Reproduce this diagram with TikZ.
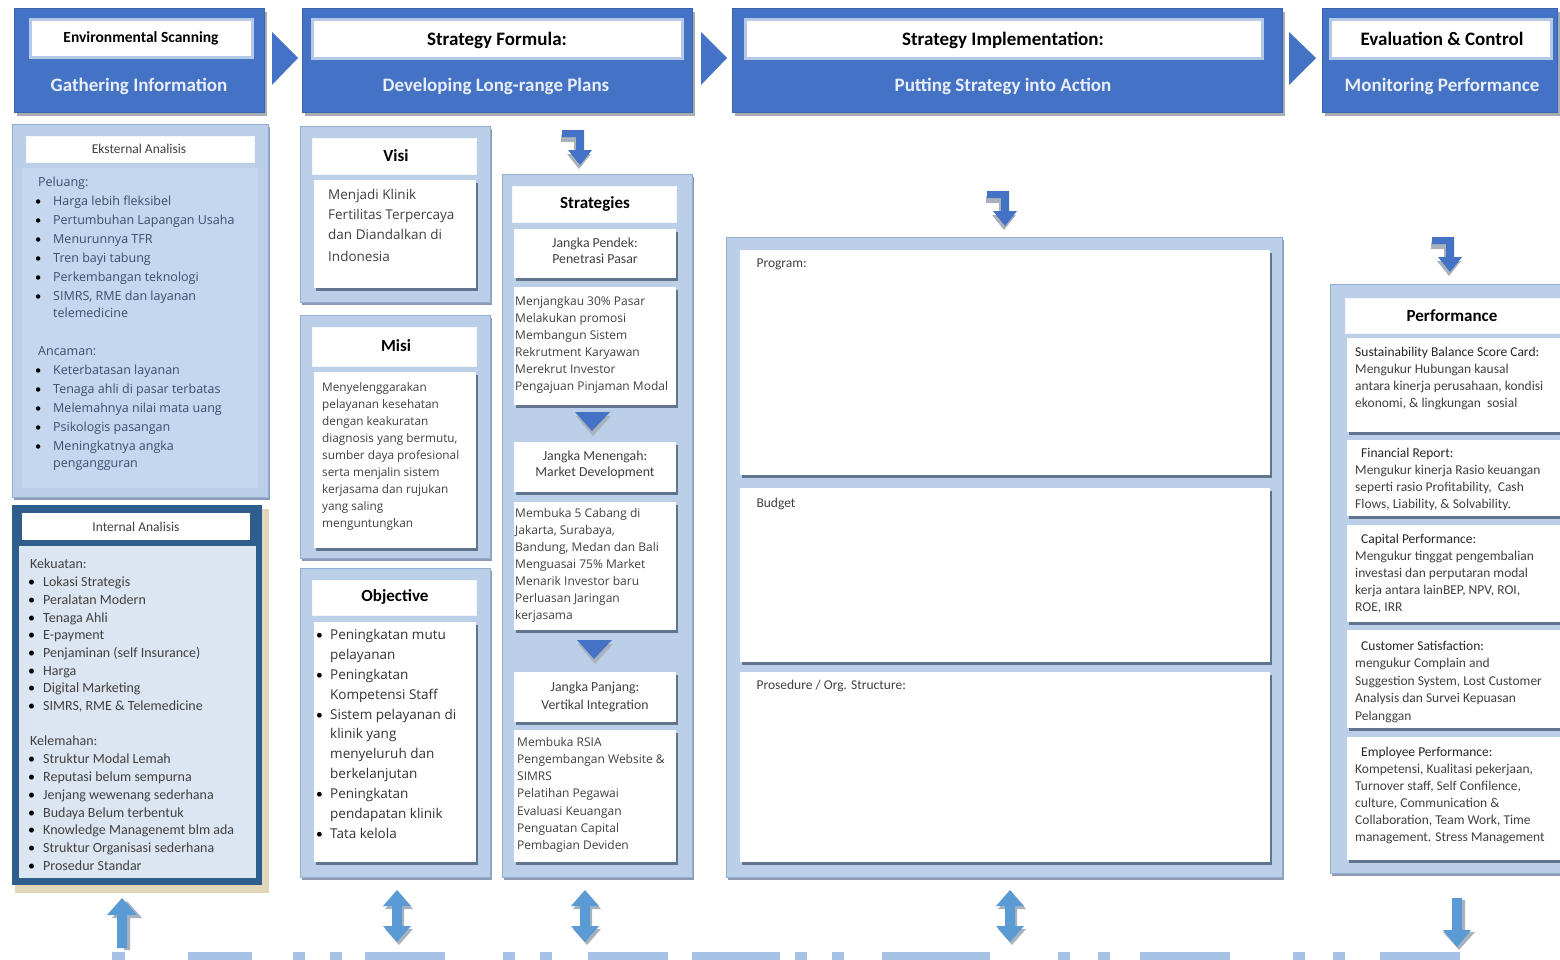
\documentclass[tikz,border=0pt]{standalone}
\usepackage{fontspec}
\setmainfont{Carlito}
\newfontfamily\wide{Open Sans}
\usetikzlibrary{shadows}
\definecolor{hblue}{HTML}{4472C4}
\definecolor{hline}{HTML}{3B64AD}
\definecolor{hgray}{HTML}{A9ADB3}
\definecolor{hrim}{HTML}{B4C9E8}
\definecolor{fblue}{HTML}{BCCFE8}
\definecolor{fedge}{HTML}{93ADD3}
\definecolor{fshade}{HTML}{8C9BB1}
\definecolor{cshade}{HTML}{62758F}
\definecolor{pblue}{HTML}{C4D7EE}
\definecolor{iblue}{HTML}{DCE6F2}
\definecolor{dblue}{HTML}{2E5D8E}
\definecolor{tanish}{HTML}{E2D6B8}
\definecolor{ablue}{HTML}{5B9BD5}
\definecolor{agray}{HTML}{A9B1BD}
\definecolor{sblue}{HTML}{A6C2E4}
\definecolor{txt}{HTML}{404040}
\definecolor{etxt}{HTML}{3E4D6A}
\newcommand\bl[1]{\makebox[#1][l]{\normalfont\textcolor{black}{\textbullet}}}

\begin{document}
\begin{tikzpicture}[x=1pt, y=-1pt,
    head/.style = {fill=hblue, draw=hline, drop shadow={opacity=1, fill=hgray, shadow xshift=3pt, shadow yshift=-4pt}},
    headin/.style = {fill=white, draw=hrim, line width=3pt},
    frm/.style = {fill=fblue, draw=fedge, drop shadow={opacity=1, fill=fshade, shadow xshift=2pt, shadow yshift=-3pt}},
    ttlcard/.style = {fill=white, draw=white!80!fblue},
    card/.style = {fill=white, drop shadow={opacity=1, fill=cshade, shadow xshift=1.5pt, shadow yshift=-3pt}},
    ttl/.style = {font=\bfseries\fontsize{19}{22}\selectfont, text=black},
    sub/.style = {font=\bfseries\fontsize{19}{22}\selectfont, text=white!88!hblue},
    btl/.style = {font=\bfseries\fontsize{17}{20}\selectfont, text=black},
    lbl/.style = {font=\fontsize{13.5}{16}\selectfont, text=txt},
    blk/.style = {anchor=north west, inner sep=0pt, align=left, text=txt},
    ctr/.style = {inner sep=0pt, align=center, text=txt},
    chev/.style = {fill=hblue},
    arr/.style = {fill=ablue},
    ashd/.style = {fill=agray}
    ]
    \useasboundingbox (0,0) rectangle (1560,959);
    \clip (0,0) rectangle (1560,959);

    \path[head] (14,8) rectangle (264,112);
    \path[headin] (30,19) rectangle (252,57);
    \node[ttl, font=\bfseries\fontsize{15.5}{18}\selectfont] (envscan) at (141,38) {Environmental Scanning};
    \node[sub] (gather) at (139,86) {Gathering Information};
    \fill[chev] (272,32) -- (298,58) -- (272,85) -- cycle;

    \path[head] (302,8) rectangle (692,112);
    \path[headin] (312,19) rectangle (682,58);
    \node[ttl] (formula) at (497,40) {Strategy Formula:};
    \node[sub] (develop) at (496,86) {Developing Long-range Plans};
    \fill[chev] (701,32) -- (727,58) -- (701,85) -- cycle;

    \path[head] (732,8) rectangle (1282,112);
    \path[headin] (745,19) rectangle (1262,58);
    \node[ttl] (implement) at (1003,40) {Strategy Implementation:};
    \node[sub] (action) at (1003,86) {Putting Strategy into Action};
    \fill[chev] (1289,32) -- (1316,58) -- (1289,85) -- cycle;

    \path[head] (1322,8) rectangle (1557,112);
    \path[headin] (1330,19) rectangle (1551,58);
    \node[ttl] (evaluate) at (1442,39) {Evaluation \& Control};
    \node[sub] (monitor) at (1442,86) {Monitoring Performance};

    \path[frm] (12,124) rectangle (268,497);
    \path[ttlcard] (26,136) rectangle (254,162);
    \fill[pblue] (22,168) rectangle (258,488);
    \node[lbl] (eksternal) at (139,149) {Eksternal Analisis};
    \node[blk, text=etxt, font=\wide\fontsize{12.5}{19}\selectfont] (peluang) at (35,177) {%
        \hspace*{3pt}Peluang:\\
        \bl{18pt}Harga lebih fleksibel\\
        \bl{18pt}Pertumbuhan Lapangan Usaha\\
        \bl{18pt}Menurunnya TFR\\
        \bl{18pt}Tren bayi tabung\\
        \bl{18pt}Perkembangan teknologi\\
        \bl{18pt}SIMRS, RME dan layanan\\[-2pt]
        \hspace*{18pt}telemedicine};
    \node[blk, text=etxt, font=\wide\fontsize{12.5}{19}\selectfont] (ancaman) at (35,346) {%
        \hspace*{3pt}Ancaman:\\
        \bl{18pt}Keterbatasan layanan\\
        \bl{18pt}Tenaga ahli di pasar terbatas\\
        \bl{18pt}Melemahnya nilai mata uang\\
        \bl{18pt}Psikologis pasangan\\
        \bl{18pt}Meningkatnya angka\\[-2pt]
        \hspace*{18pt}pengangguran};

    \fill[tanish] (15,509) rectangle (269,893);
    \fill[dblue] (12,505) rectangle (262,885);
    \fill[white] (22,513) rectangle (250,540);
    \fill[iblue] (19,546) rectangle (256,878);
    \node[lbl] (internal) at (136,527) {Internal Analisis};
    \node[blk, font=\fontsize{14}{17.7}\selectfont] (kekuatan) at (28,559) {%
        \hspace*{2pt}Kekuatan:\\
        \bl{15pt}Lokasi Strategis\\
        \bl{15pt}Peralatan Modern\\
        \bl{15pt}Tenaga Ahli\\
        \bl{15pt}E-payment\\
        \bl{15pt}Penjaminan (self Insurance)\\
        \bl{15pt}Harga\\
        \bl{15pt}Digital Marketing\\
        \bl{15pt}SIMRS, RME \& Telemedicine};
    \node[blk, font=\fontsize{14}{17.8}\selectfont] (kelemahan) at (28,736) {%
        \hspace*{2pt}Kelemahan:\\
        \bl{15pt}Struktur Modal Lemah\\
        \bl{15pt}Reputasi belum sempurna\\
        \bl{15pt}Jenjang wewenang sederhana\\
        \bl{15pt}Budaya Belum terbentuk\\
        \bl{15pt}Knowledge Managenemt blm ada\\
        \bl{15pt}Struktur Organisasi sederhana\\
        \bl{15pt}Prosedur Standar};

    \path[frm] (300,126) rectangle (490,302);
    \path[ttlcard] (312,138) rectangle (476,174);
    \path[card] (314,180) rectangle (476,288);
    \node[btl] (visi) at (396,156) {Visi};
    \node[blk, font=\wide\fontsize{13.5}{20}\selectfont] (visitext) at (328,189) {%
        Menjadi Klinik\\
        Fertilitas Terpercaya\\
        dan Diandalkan di\\[2pt]
        Indonesia};

    \path[frm] (300,315) rectangle (490,558);
    \path[ttlcard] (312,327) rectangle (476,366);
    \path[card] (314,372) rectangle (476,548);
    \node[btl] (misi) at (396,346) {Misi};
    \node[blk, font=\wide\fontsize{11.8}{17}\selectfont] (misitext) at (322,382) {%
        Menyelenggarakan\\
        pelayanan kesehatan\\
        dengan keakuratan\\
        diagnosis yang bermutu,\\
        sumber daya profesional\\
        serta menjalin sistem\\
        kerjasama dan rujukan\\
        yang saling\\
        menguntungkan};

    \path[frm] (300,568) rectangle (490,877);
    \path[ttlcard] (312,580) rectangle (476,615);
    \path[card] (314,622) rectangle (476,862);
    \node[btl] (objective) at (395,597) {Objective};
    \node[blk, text=black!80, font=\wide\fontsize{13.5}{19.9}\selectfont] (objtext) at (316,629) {%
        \bl{14pt}Peningkatan mutu\\
        \hspace*{14pt}pelayanan\\
        \bl{14pt}Peningkatan\\
        \hspace*{14pt}Kompetensi Staff\\
        \bl{14pt}Sistem pelayanan di\\
        \hspace*{14pt}klinik yang\\
        \hspace*{14pt}menyeluruh dan\\
        \hspace*{14pt}berkelanjutan\\
        \bl{14pt}Peningkatan\\
        \hspace*{14pt}pendapatan klinik\\
        \bl{14pt}Tata kelola};

    \path[frm] (502,174) rectangle (692,877);
    \path[ttlcard] (512,186) rectangle (676,222);
    \node[btl] (strategies) at (595,204) {Strategies};
    \path[card] (514,229) rectangle (676,278);
    \node[ctr, font=\fontsize{13.8}{16}\selectfont] (pendek) at (595,251) {Jangka Pendek:\\Penetrasi Pasar};
    \path[card] (514,287) rectangle (676,405);
    \node[blk, font=\wide\fontsize{12}{17}\selectfont] (pendektext) at (515,296) {%
        Menjangkau 30\% Pasar\\
        Melakukan promosi\\
        Membangun Sistem\\
        Rekrutment Karyawan\\
        Merekrut Investor\\
        Pengajuan Pinjaman Modal};
    \fill[agray] (576,416) -- (611,416) -- (593,436) -- cycle;
    \fill[chev] (575,412) -- (610,412) -- (592,431) -- cycle;
    \path[card] (514,442) rectangle (676,492);
    \node[ctr, font=\fontsize{13.8}{16}\selectfont] (menengah) at (595,465) {Jangka Menengah:\\Market Development};
    \path[card] (514,502) rectangle (676,630);
    \node[blk, font=\wide\fontsize{12}{17}\selectfont] (menengahtext) at (515,508) {%
        Membuka 5 Cabang di\\
        Jakarta, Surabaya,\\
        Bandung, Medan dan Bali\\
        Menguasai 75\% Market\\
        Menarik Investor baru\\
        Perluasan Jaringan\\
        kerjasama};
    \fill[agray] (578,644) -- (613,644) -- (595,664) -- cycle;
    \fill[chev] (577,640) -- (612,640) -- (594,659) -- cycle;
    \path[card] (514,672) rectangle (676,722);
    \node[ctr, font=\fontsize{13.8}{18}\selectfont] (panjang) at (595,697) {Jangka Panjang:\\Vertikal Integration};
    \path[card] (514,730) rectangle (676,862);
    \node[blk, font=\wide\fontsize{12}{17.2}\selectfont] (panjangtext) at (517,737) {%
        Membuka RSIA\\
        Pengembangan Website \&\\
        SIMRS\\
        Pelatihan Pegawai\\
        Evaluasi Keuangan\\
        Penguatan Capital\\
        Pembagian Deviden};

    \path[frm] (726,237) rectangle (1282,877);
    \path[card] (740,250) rectangle (1270,475);
    \path[card] (740,488) rectangle (1270,662);
    \path[card] (740,672) rectangle (1270,862);
    \node[lbl, anchor=west] (program) at (753,264) {Program:};
    \node[lbl, anchor=west] (budget) at (753,504) {Budget};
    \node[lbl, anchor=west] (prosedur) at (753,686) {Prosedure / Org. Structure:};

    \path[frm] (1330,284) rectangle (1570,873);
    \path[ttlcard] (1345,298) rectangle (1570,333);
    \node[btl] (performance) at (1452,316) {Performance};
    \path[card] (1347,338) rectangle (1570,432);
    \path[card] (1347,440) rectangle (1570,516);
    \path[card] (1347,525) rectangle (1570,622);
    \path[card] (1347,630) rectangle (1570,728);
    \path[card] (1347,737) rectangle (1570,860);
    \node[blk, font=\fontsize{13.5}{17}\selectfont] (sustain) at (1355,347) {%
        \textcolor{black!85}{Sustainability Balance Score Card:}\\
        Mengukur Hubungan kausal\\
        antara kinerja perusahaan, kondisi\\
        ekonomi, \& lingkungan\ \ sosial};
    \node[blk, font=\fontsize{13.5}{17}\selectfont] (financial) at (1355,448) {%
        \hspace*{6pt}\textcolor{black!85}{Financial Report:}\\
        Mengukur kinerja Rasio keuangan\\
        seperti rasio Profitability,\ \ Cash\\
        Flows, Liability, \& Solvability.};
    \node[blk, font=\fontsize{13.5}{17}\selectfont] (capital) at (1355,534) {%
        \hspace*{6pt}\textcolor{black!85}{Capital Performance:}\\
        Mengukur tinggat pengembalian\\
        investasi dan perputaran modal\\
        kerja antara lainBEP, NPV, ROI,\\
        ROE, IRR};
    \node[blk, font=\fontsize{13.5}{17.4}\selectfont] (customer) at (1355,641) {%
        \hspace*{6pt}\textcolor{black!85}{Customer Satisfaction:}\\
        mengukur Complain and\\
        Suggestion System, Lost Customer\\
        Analysis dan Survei Kepuasan\\
        Pelanggan};
    \node[blk, font=\fontsize{13.5}{17}\selectfont] (employee) at (1355,747) {%
        \hspace*{6pt}\textcolor{black!85}{Employee Performance:}\\
        Kompetensi, Kualitasi pekerjaan,\\
        Turnover staff, Self Confilence,\\
        culture, Communication \&\\
        Collaboration, Team Work, Time\\
        management. Stress Management};

    \foreach \cx/\ty in {580/130, 1005/191, 1450/237} {
        \fill[ashd] (\cx-19,\ty+5) -- (\cx+2,\ty+5) -- (\cx+2,\ty+24) -- (\cx+11,\ty+24) -- (\cx-1,\ty+39) -- (\cx-13,\ty+24) -- (\cx-6,\ty+24) -- (\cx-6,\ty+12) -- (\cx-19,\ty+12) -- cycle;
        \fill[chev] (\cx-18,\ty) -- (\cx+4,\ty) -- (\cx+4,\ty+20) -- (\cx+12,\ty+20) -- (\cx,\ty+35) -- (\cx-12,\ty+20) -- (\cx-4,\ty+20) -- (\cx-4,\ty+7) -- (\cx-18,\ty+7) -- cycle;
    }

    \fill[ashd] (124,950) -- (124,918) -- (112,918) -- (127,901) -- (142,918) -- (130,918) -- (130,950) -- cycle;
    \fill[arr] (117,948) -- (117,915) -- (107,915) -- (122,898) -- (137,915) -- (127,915) -- (127,948) -- cycle;
    \foreach \cx in {397, 585, 1010} {
        \fill[ashd] (\cx+2,893) -- (\cx+16,909) -- (\cx+7,909) -- (\cx+7,929) -- (\cx+16,929) -- (\cx+2,945) -- (\cx-12,929) -- (\cx-3,929) -- (\cx-3,909) -- (\cx-12,909) -- cycle;
        \fill[arr] (\cx,890) -- (\cx+14,906) -- (\cx+5,906) -- (\cx+5,926) -- (\cx+14,926) -- (\cx,942) -- (\cx-14,926) -- (\cx-5,926) -- (\cx-5,906) -- (\cx-14,906) -- cycle;
    }
    \fill[ashd] (1459,900) -- (1465,900) -- (1465,932) -- (1475,932) -- (1459,950) -- (1443,932) -- (1453,932) -- cycle;
    \fill[arr] (1452,898) -- (1462,898) -- (1462,930) -- (1471,930) -- (1457,947) -- (1443,930) -- (1452,930) -- cycle;

    \foreach \a/\b in {112/125, 188/252, 293/305, 330/342, 365/445, 503/515, 540/552, 588/668, 692/780, 795/807, 832/844, 882/990, 1058/1070, 1098/1110, 1140/1230, 1293/1305, 1333/1345, 1380/1460}
        \fill[sblue] (\a,952) rectangle (\b,960);
\end{tikzpicture}
\end{document}
